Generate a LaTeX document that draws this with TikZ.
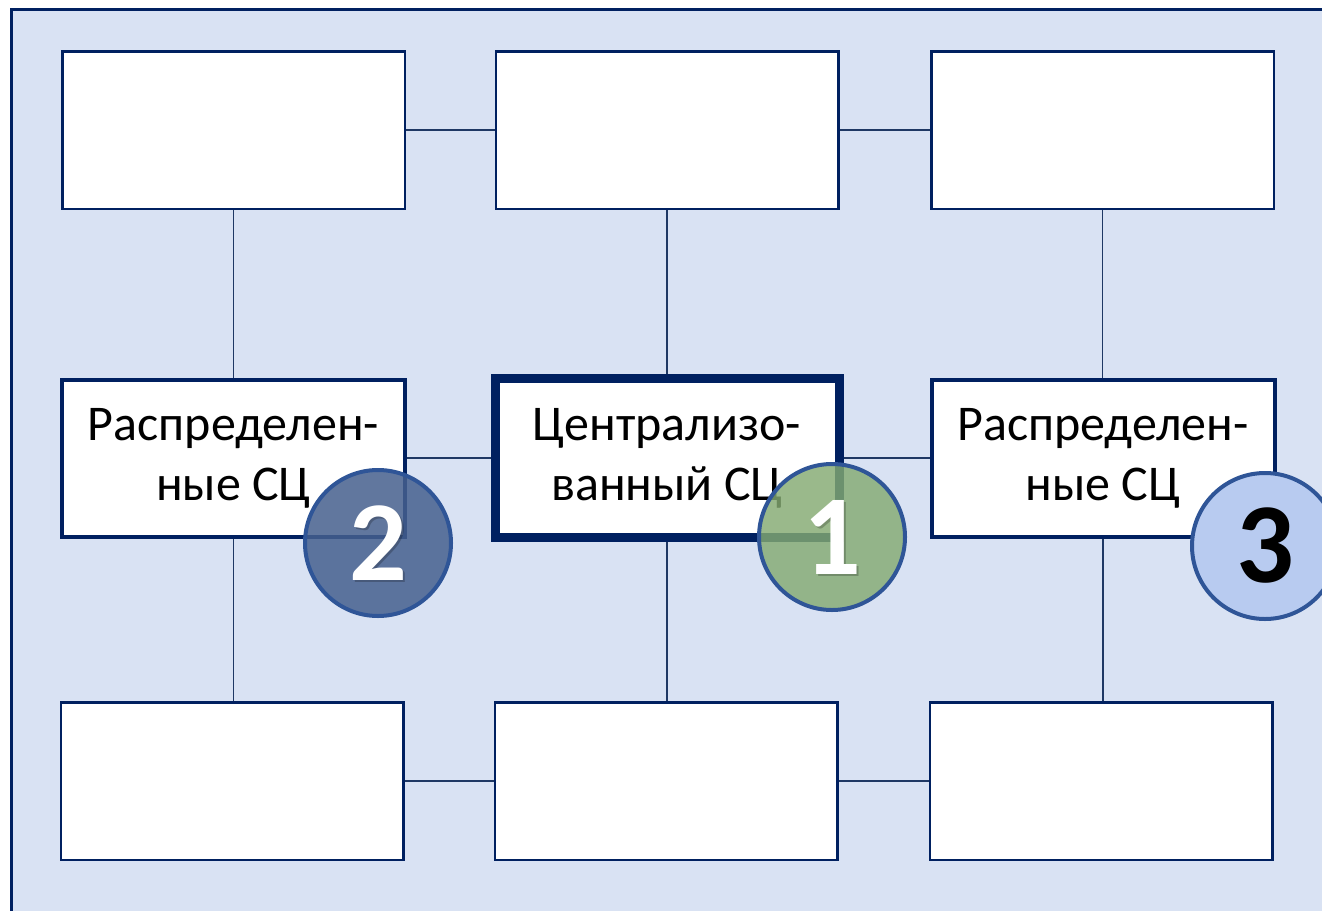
\documentclass[tikz,border=0pt]{standalone}
\usepackage{fontspec}
\setmainfont{Carlito}
\definecolor{navy}{HTML}{002060}
\definecolor{linkblue}{HTML}{1F3864}
\definecolor{panel}{HTML}{D9E2F3}
\definecolor{ringblue}{HTML}{2F5597}
\definecolor{slate}{HTML}{46608E}
\definecolor{sage}{HTML}{84AA72}
\definecolor{pale}{HTML}{B8CBF0}
\tikzset{
  cell/.style={draw=navy, fill=white, line width=2.5pt, inner sep=0pt,
    minimum width=342.5pt, minimum height=157.5pt, align=center,
    font=\fontsize{50}{60}\selectfont},
  side/.style={cell, line width=4pt, minimum width=343pt, minimum height=157pt},
  hub/.style={cell, line width=9pt, minimum width=344pt, minimum height=159pt},
  link/.style={draw=linkblue, line width=1.2pt},
  badge/.style={circle, draw=ringblue, line width=4pt, minimum size=146pt,
    inner sep=0pt, text opacity=1, font=\fontsize{114}{114}\selectfont\bfseries},
  digit/.style={font=\fontsize{114}{114}\selectfont\bfseries},
  digitshade/.style={digit, text=black, text opacity=0.22}
}
\begin{document}
\begin{tikzpicture}[x=1pt, y=-1pt]
\useasboundingbox (0,0) rectangle (1322,910);
\clip (0,0) rectangle (1322,910);
% panel
\draw[navy, line width=3pt, fill=panel] (11.5,9.5) rectangle (1360,950);

% top row
\node[cell] (t1) at (233.5,130) {};
\node[cell] (t2) at (667,130) {};
\node[cell] (t3) at (1102.5,130) {};
% middle row
\node[side] (m1) at (233.5,458) {Распределен-\\ные СЦ};
\node[hub]  (m2) at (667,458) {Централизо-\\ванный СЦ};
\node[side] (m3) at (1103,458) {Распределен-\\ные СЦ};
% bottom row
\node[cell] (b1) at (232,781) {};
\node[cell] (b2) at (666,781) {};
\node[cell] (b3) at (1101,781) {};

% connectors
\draw[link] (t1.east) -- (t2.west);
\draw[link] (t2.east) -- (t3.west);
\draw[link] (m1.east) -- (m2.west);
\draw[link] (m2.east) -- (m3.west);
\draw[link] (b1.east) -- (b2.west);
\draw[link] (b2.east) -- (b3.west);
\draw[link] (t1.south) -- (t1.south |- m1.north);
\draw[link] (t2.south) -- (t2.south |- m2.north);
\draw[link] (t3.south) -- (t3.south |- m3.north);
\draw[link] (m1.south) -- (m1.south |- b1.north);
\draw[link] (m2.south) -- (m2.south |- b2.north);
\draw[link] (m3.south) -- (m3.south |- b3.north);

% numbered badges
\node[badge, fill=slate, fill opacity=0.85] (n2) at (378,543) {};
\node[digitshade] at ([xshift=2pt,yshift=-2pt]n2.center) {2};
\node[digit, text=white] (d2) at (n2.center) {2};
\node[badge, fill=sage, fill opacity=0.82] (n1) at (832,537) {};
\node[digitshade] at ([xshift=2pt,yshift=-2pt]n1.center) {1};
\node[digit, text=white] (d1) at (n1.center) {1};
\node[badge, fill=pale, text=black] (n3) at (1265,546) {3};
\end{tikzpicture}
\end{document}
